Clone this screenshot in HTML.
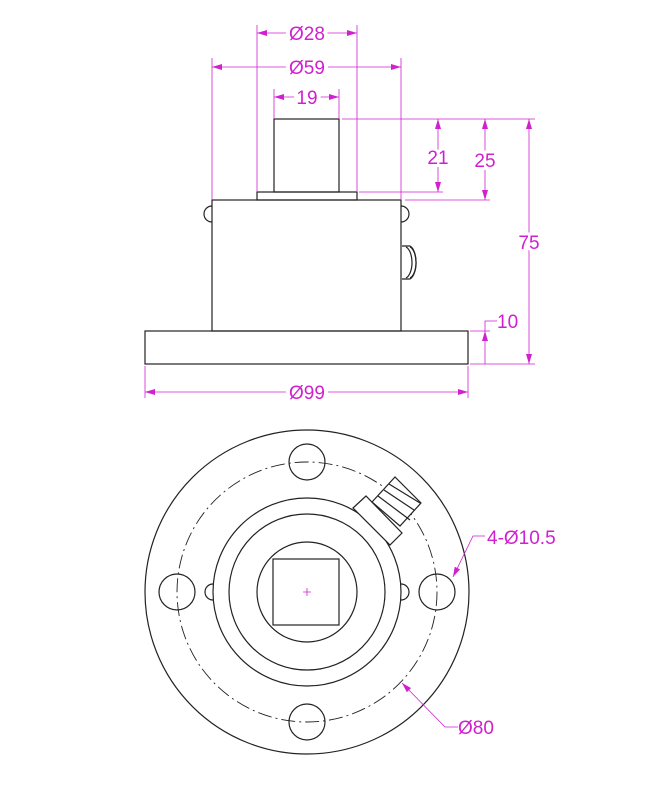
<!DOCTYPE html>
<html><head><style>body{margin:0;background:#fff}svg{display:block}text{font-family:"Liberation Sans",sans-serif;fill:#d020d0;font-size:19px}</style></head>
<body>
<svg width="653" height="800" viewBox="0 0 653 800" xmlns="http://www.w3.org/2000/svg">
<defs><marker id="a" viewBox="0 0 10 6" refX="10" refY="3" markerWidth="10" markerHeight="6" orient="auto-start-reverse" markerUnits="userSpaceOnUse"><path d="M0,0L10,3L0,6z" fill="#d020d0"/></marker></defs>
<g fill="none" stroke="#222" stroke-width="1.2">
<rect x="274" y="119" width="65" height="73"/>
<rect x="257" y="192" width="100" height="8"/>
<rect x="212" y="200" width="189" height="131"/>
<rect x="145" y="331" width="323" height="33"/>
<path d="M212,206 A8,8 0 0 0 212,222"/>
<path d="M401,206 A8,8 0 0 1 401,222"/>
<path d="M402,246 h8 a8,17 0 0 1 0,33 h-8"/>
<path d="M406,247 a8,16 0 0 1 0,31 M410,247 a8,16 0 0 1 0,31"/>
</g>
<g stroke="#d020d0" stroke-width="0.8" fill="none">
<line x1="257" y1="25" x2="257" y2="192"/><line x1="357" y1="25" x2="357" y2="192"/>
<line x1="212" y1="58" x2="212" y2="200"/><line x1="401" y1="58" x2="401" y2="200"/>
<line x1="274" y1="89" x2="274" y2="119"/><line x1="339" y1="89" x2="339" y2="119"/>
<line x1="342" y1="119" x2="535" y2="119"/><line x1="359" y1="192" x2="443" y2="192"/>
<line x1="405" y1="200" x2="490" y2="200"/><line x1="470" y1="364" x2="535" y2="364"/>
<line x1="470" y1="331" x2="490" y2="331"/>
<line x1="145" y1="366" x2="145" y2="398"/><line x1="468" y1="366" x2="468" y2="398"/>
<g marker-start="url(#a)" marker-end="url(#a)">
<line x1="257" y1="33" x2="357" y2="33"/>
<line x1="212" y1="67" x2="401" y2="67"/>
<line x1="274" y1="97" x2="339" y2="97"/>
<line x1="438" y1="119" x2="438" y2="192"/>
<line x1="485" y1="119" x2="485" y2="200"/>
<line x1="529" y1="119" x2="529" y2="364"/>
<line x1="145" y1="392" x2="468" y2="392"/>
</g>
<line x1="485" y1="364" x2="485" y2="331" marker-end="url(#a)"/>
<polyline points="485,331 485,321 497,321"/>
</g>
<g text-anchor="middle">
<text x="307" y="40" style="fill:#fff" stroke="#fff" stroke-width="8">Ø28</text><text x="307" y="40">Ø28</text>
<text x="307" y="74" style="fill:#fff" stroke="#fff" stroke-width="8">Ø59</text><text x="307" y="74">Ø59</text>
<text x="307" y="104" style="fill:#fff" stroke="#fff" stroke-width="8">19</text><text x="307" y="104">19</text>
<text x="438" y="164" style="fill:#fff" stroke="#fff" stroke-width="6">21</text><text x="438" y="164">21</text>
<text x="485" y="167" style="fill:#fff" stroke="#fff" stroke-width="6">25</text><text x="485" y="167">25</text>
<text x="529" y="249" style="fill:#fff" stroke="#fff" stroke-width="6">75</text><text x="529" y="249">75</text>
<text x="307" y="399" style="fill:#fff" stroke="#fff" stroke-width="8">Ø99</text><text x="307" y="399">Ø99</text>
</g>
<text x="497" y="328">10</text>
<g fill="none" stroke="#222" stroke-width="1.2">
<circle cx="307" cy="592" r="162"/>
<circle cx="307" cy="592" r="130" stroke-dasharray="14,4,2,4" stroke-width="0.9"/>
<circle cx="307" cy="462" r="18"/><circle cx="307" cy="722" r="18"/>
<circle cx="177" cy="592" r="18"/><circle cx="437" cy="592" r="18"/>
<circle cx="307" cy="592" r="94"/><circle cx="307" cy="592" r="78"/><circle cx="307" cy="592" r="50"/>
<rect x="273" y="559" width="66" height="66"/>
<path d="M213,584 A8,8 0 0 0 213,600"/><path d="M401,584 A8,8 0 0 1 401,600"/>
<polygon points="353,508 366,496 402,533 390,545" fill="#fff"/>
<polygon points="372,502 395,477 421,503 400,526" fill="#fff"/>
<path d="M384,490 L414,510 M378,496 L410,520 M389,484 L420,503"/>
</g>
<path d="M303,592h8M307,588v8" stroke="#d020d0" stroke-width="0.8"/>
<g stroke="#d020d0" stroke-width="0.8" fill="none">
<polyline points="485,536 473,536 453,577" marker-end="url(#a)"/>
<polyline points="458,727 445,727 402,683" marker-end="url(#a)"/>
</g>
<text x="487" y="544">4-Ø10.5</text>
<text x="458" y="734">Ø80</text>
</svg>
</body></html>
